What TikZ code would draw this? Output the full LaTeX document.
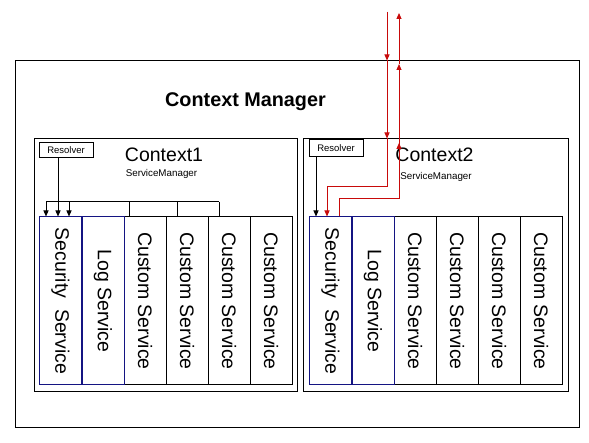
\documentclass[tikz,border=0pt]{standalone}
\usepackage{fontspec}
\setmainfont{Liberation Sans}
\usetikzlibrary{arrows.meta}
\definecolor{redline}{RGB}{200,10,10}
\definecolor{navy}{RGB}{20,20,130}
\tikzset{
  box/.style={draw=black, line width=1pt, inner sep=0pt},
  resbox/.style={draw=black, line width=1pt, inner sep=0pt, minimum width=54pt, minimum height=15pt, font=\fontsize{9.5}{10}\selectfont},
  col/.style={draw=black, line width=1pt, inner sep=0pt, minimum width=42pt, minimum height=168pt, font=\fontsize{19.5}{20}\selectfont},
  bluecol/.style={col, draw=navy},
  wire/.style={line width=1pt, draw=black},
  arr/.style={wire, -{Triangle[width=5pt,length=6pt]}},
  rwire/.style={line width=1pt, draw=redline},
  rarr/.style={rwire, -{Triangle[width=5pt,length=6pt]}, fill=redline},
  bigtxt/.style={inner sep=0pt, anchor=base, font=\fontsize{19.5}{20}\selectfont},
  smalltxt/.style={inner sep=0pt, anchor=base, font=\fontsize{9.8}{10}\selectfont},
}
\begin{document}
\begin{tikzpicture}[x=1pt,y=-1pt]
\useasboundingbox (0,0) rectangle (589,443);
\fill[white] (0,0) rectangle (589,443);
% outer box
\node[box, minimum width=564pt, minimum height=366pt] (outer) at (297,244) {};
\node[inner sep=0pt, anchor=base, font=\bfseries\fontsize{19.8}{20}\selectfont] (cm) at (245.5,107) {Context Manager};
% context boxes
\node[box, minimum width=263pt, minimum height=253pt] (ctx1) at (165.5,265.5) {};
\node[box, minimum width=265pt, minimum height=253pt] (ctx2) at (435.5,265.5) {};
\node[bigtxt] (c1t) at (164,162) {Context1};
\node[bigtxt] (c2t) at (434.5,162) {Context2};
\node[smalltxt] (sm1) at (161.5,177) {ServiceManager};
\node[smalltxt] (sm2) at (436,180) {ServiceManager};
\node[resbox] (res1) at (66,150) {Resolver};
\node[resbox, minimum height=17pt] (res2) at (336,148.5) {Resolver};
% columns context1
\node[col] (a3) at (145,301) {\rotatebox{-90}{Custom Service}};
\node[col] (a4) at (187,301) {\rotatebox{-90}{Custom Service}};
\node[col] (a5) at (229,301) {\rotatebox{-90}{Custom Service}};
\node[col] (a6) at (271,301) {\rotatebox{-90}{Custom Service}};
\node[bluecol] (a1) at (60.5,301) {\rotatebox{-90}{Security\ \ Service}};
\node[bluecol] (a2) at (103,301) {\rotatebox{-90}{Log Service}};
% columns context2
\node[col] (b3) at (415,301) {\rotatebox{-90}{Custom Service}};
\node[col] (b4) at (457,301) {\rotatebox{-90}{Custom Service}};
\node[col] (b5) at (499,301) {\rotatebox{-90}{Custom Service}};
\node[col] (b6) at (541,301) {\rotatebox{-90}{Custom Service}};
\node[bluecol] (b1) at (330.5,301) {\rotatebox{-90}{Security\ \ Service}};
\node[bluecol] (b2) at (373,301) {\rotatebox{-90}{Log Service}};
% resolver wiring context1
\coordinate (busL) at (46,202);
\coordinate (busM) at (58,202);
\coordinate (busN) at (69,202);
\coordinate (busP) at (129,202);
\coordinate (busQ) at (177,202);
\coordinate (busR) at (219,202);
\draw[wire] (res1.south -| busM) -- (busM);
\draw[wire] (busL) -- (busR);
\draw[arr] (busL) -- (busL |- a1.north);
\draw[arr] (busM) -- (busM |- a1.north);
\draw[arr] (busN) -- (busN |- a1.north);
\draw[wire] (busP) -- (busP |- a3.north);
\draw[wire] (busQ) -- (busQ |- a4.north);
\draw[wire] (busR) -- (busR |- a5.north);
% resolver wiring context2
\coordinate (r2x) at (316,160);
\draw[arr] (res2.south -| r2x) -- (r2x |- b1.north);
% red request path (down)
\coordinate (dtop) at (387,12);
\coordinate (dturn) at (387,187);
\coordinate (dleft) at (327,187);
\draw[rarr] (dtop) -- (dtop |- outer.north);
\draw[rarr] (dtop |- outer.north) -- (dtop |- ctx2.north);
\draw[rwire] (dtop |- ctx2.north) -- (dturn) -- (dleft);
\draw[rarr] (dleft) -- (dleft |- b1.north);
% red response path (up)
\coordinate (ubot) at (339,199);
\coordinate (uturn) at (399,199);
\coordinate (utop) at (399,13);
\coordinate (u1) at (399,143);
\coordinate (u2) at (399,64);
\draw[rwire] (ubot |- b1.north) -- (ubot) -- (uturn) -- (u1);
\draw[rarr] (uturn) -- (u1);
\draw[rarr] (u1) -- (u2);
\draw[rarr] (u2) -- (utop);
\end{tikzpicture}
\end{document}
